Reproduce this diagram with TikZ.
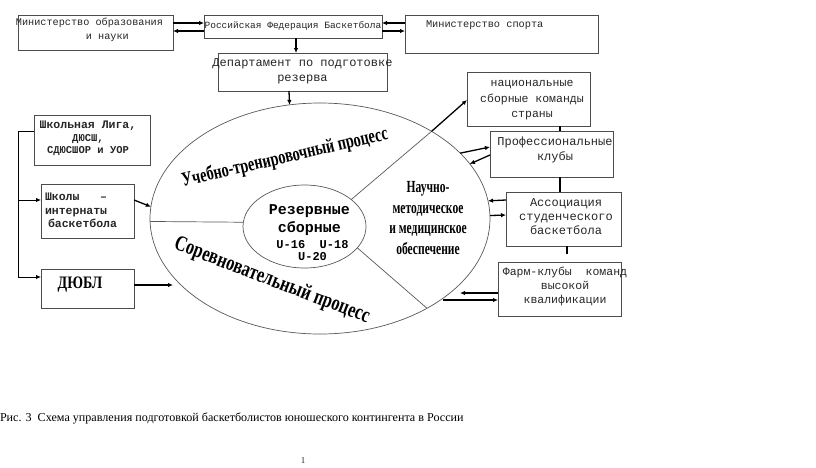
\documentclass[tikz,border=0pt]{standalone}
\usepackage{fontspec}
\setmainfont{Liberation Serif}
\newfontfamily\monof{Liberation Mono}
\newfontfamily\condA[FakeStretch=0.72]{Liberation Serif}
\newfontfamily\condB[FakeStretch=0.75]{Liberation Serif}
\newfontfamily\condC[FakeStretch=0.68]{Liberation Serif}
\newfontfamily\condD[FakeStretch=0.8]{Liberation Serif}
\usetikzlibrary{shapes.geometric,arrows.meta,calc}
\newcommand{\fsz}[2]{\fontsize{#1}{#2}\selectfont}
\begin{document}
\begin{tikzpicture}[x=1pt,y=-1pt,
  box/.style={draw=black!70,line width=0.7pt,rectangle,inner sep=0pt,outer sep=0pt,anchor=center},
  oval/.style={draw=black!65,line width=0.7pt,ellipse,inner sep=0pt,outer sep=0pt},
  arr/.style={draw=black,line width=1.3pt,-{Latex[length=5pt,width=4.5pt]}},
  conn/.style={draw=black,line width=1.3pt},
  thinl/.style={draw=black!65,line width=0.7pt},
  txt/.style={inner sep=0pt,outer sep=0pt,align=center,text=black!85},
  wa/.style={inner sep=0pt,outer sep=0pt,align=center,text=black}
]
\useasboundingbox (0,0) rectangle (816,467);
\fill[white] (0,0) rectangle (816,467);

% boxes
\node[box,minimum width=155pt,minimum height=35pt] (mo) at (95.5,32.5) {};
\node[box,minimum width=178pt,minimum height=23pt] (rfb) at (293,26.5) {};
\node[box,minimum width=193pt,minimum height=38pt] (ms) at (501.5,34) {};
\node[box,minimum width=169pt,minimum height=38pt] (dep) at (302.5,72) {};
\node[box,minimum width=123pt,minimum height=54pt] (nat) at (528.5,99) {};
\node[box,minimum width=123pt,minimum height=46pt] (prof) at (551.5,154) {};
\node[box,minimum width=115pt,minimum height=54pt] (assoc) at (563.5,219) {};
\node[box,minimum width=123pt,minimum height=54pt] (farm) at (559.5,289) {};
\node[box,minimum width=116pt,minimum height=50pt] (shl) at (92,140) {};
\node[box,minimum width=93pt,minimum height=54pt] (shi) at (87.5,211) {};
\node[box,minimum width=93pt,minimum height=39pt] (dubl) at (87.5,288.5) {};

% ellipses
\node[oval,minimum width=340pt,minimum height=231pt] (big) at (320,218.5) {};
\node[oval,minimum width=123pt,minimum height=83pt] (inner) at (304.5,226.5) {};

% box texts
\node[txt,anchor=west,align=left,font=\monof\fsz{10.2}{14}] (mo-t) at (16,30)
  {Министерство образования\\\hspace*{70pt}и науки};
\node[txt,font=\monof\fsz{9.5}{11}] (rfb-t) at (293,26) {Российская Федерация Баскетбола};
\node[txt,anchor=west,font=\monof\fsz{10.3}{12}] (ms-t) at (426,25) {Министерство спорта};
\node[txt,font=\monof\fsz{12}{15}] (dep-t) at (302.5,71.5) {Департамент по подготовке\\резерва};
\node[txt,font=\monof\fsz{11.5}{15.5}] (nat-t) at (532,100.5) {национальные\\сборные команды\\страны};
\node[txt,font=\monof\fsz{12}{15}] (prof-t) at (555,149.5) {Профессиональные\\клубы};
\node[txt,font=\monof\fsz{12}{14}] (assoc-t) at (566,217) {Ассоциация\\студенческого\\баскетбола};
\node[txt,font=\monof\fsz{11.5}{14}] (farm-t) at (565,286) {Фарм-клубы\ \ команд\\высокой\\квалификации};
\node[txt,font=\monof\bfseries\fsz{10.5}{12.5}] (shl-t) at (88,138.5) {{\fsz{11.5}{12.5}Школьная Лига,}\\ДЮСШ,\\СДЮСШОР и УОР};
\node[txt,anchor=west,align=left,font=\monof\bfseries\fsz{11.5}{13.5}] (shi-t) at (45,210.5) {Школы\ \ \ –\\интернаты\\\hspace*{3pt}баскетбола};
\node[wa,font=\condD\bfseries\fsz{17.5}{20}] (dubl-t) at (80,285) {ДЮБЛ};

% ellipse texts
\node[wa,rotate=13,font=\condA\bfseries\fsz{20}{22}] (utp) at (285,158) {Учебно-тренировочный процесс};
\node[wa,rotate=-21,font=\condB\bfseries\fsz{22}{24}] (sp) at (272,281) {Соревновательный процесс};
\node[wa,font=\condC\bfseries\fsz{17}{20.5}] (nmo) at (428,218) {Научно-\\методическое\\и медицинское\\обеспечение};
\node[wa,font=\monof\bfseries\fsz{15}{18}] (rez) at (309.5,220.5) {Резервные\\сборные};
\node[wa,font=\monof\bfseries\fsz{12}{12}] (uu) at (312.5,251) {U-16\ \ U-18\\U-20};

% caption
\node[wa,anchor=west,font=\fsz{12.1}{14}] (cap) at (0,418) {Рис. 3\ \ Схема управления подготовкой баскетболистов юношеского контингента в России};
\node[txt,font=\fsz{9}{10}] (pg) at (303,461) {1};

% top connectors
\draw[arr] ([yshift=9.5pt]mo.east) -- ([yshift=3.5pt]rfb.west);
\draw[arr] ([yshift=-4.5pt]rfb.west) -- ([yshift=1.5pt]mo.east);
\draw[arr] ([yshift=11pt]ms.west) -- ([yshift=3.5pt]rfb.east);
\draw[arr] ([yshift=-4.5pt]rfb.east) -- ([yshift=3pt]ms.west);
\draw[arr] ([xshift=3pt]rfb.south) -- ([xshift=-6.5pt]dep.north);
\draw[arr] ([xshift=-13.5pt]dep.south) -- (big.105.3);

% left side
\coordinate (lt) at (18,131);
\coordinate (lm) at (18,200);
\coordinate (dubltip) at (173,285);
\draw[thinl,draw=black,line width=0.9pt] ([yshift=9pt]shl.west) -- (lt);
\draw[arr,line width=0.9pt] (lt) |- ([yshift=11.5pt]dubl.west);
\draw[arr,line width=0.9pt] (lm) -- ([yshift=11pt]shi.west);
\draw[arr] ([yshift=11pt]shi.east) -- (big.176.1);
\draw[arr] ([yshift=3.5pt]dubl.east) -- (dubltip);

% inside ellipse
\draw[thinl] (inner.30.4) -- (big.38.7);
\draw[thinl] (inner.338.8) -- (big.320.35);
\draw[thinl] (big.181.5) -- (inner.176.7);
\draw[arr] (big.38.7) -- ([yshift=-1pt]nat.west);

% right side
\draw[arr] (big.25.07) -- ([yshift=7pt]prof.west);
\draw[arr] ([yshift=-1pt]prof.west) -- (big.20.9);
\draw[arr] ([yshift=19pt]assoc.west) -- (big.6.29);
\draw[arr] (big.1.18) -- ([yshift=4pt]assoc.west);
\coordinate (fl) at (460,293);
\coordinate (fr) at (443,300);
\draw[arr] ([yshift=-4pt]farm.west) -- (fl);
\draw[arr] (fr) -- ([yshift=-11pt]farm.west);
\draw[conn] ([xshift=31.5pt]nat.south) -- ([xshift=8.5pt]prof.north);
\draw[conn] ([xshift=8.5pt]prof.south) -- ([xshift=-3.5pt]assoc.north);
\coordinate (atick) at (567,254);
\draw[conn] ([xshift=3.5pt]assoc.south) -- (atick);
\end{tikzpicture}
\end{document}
